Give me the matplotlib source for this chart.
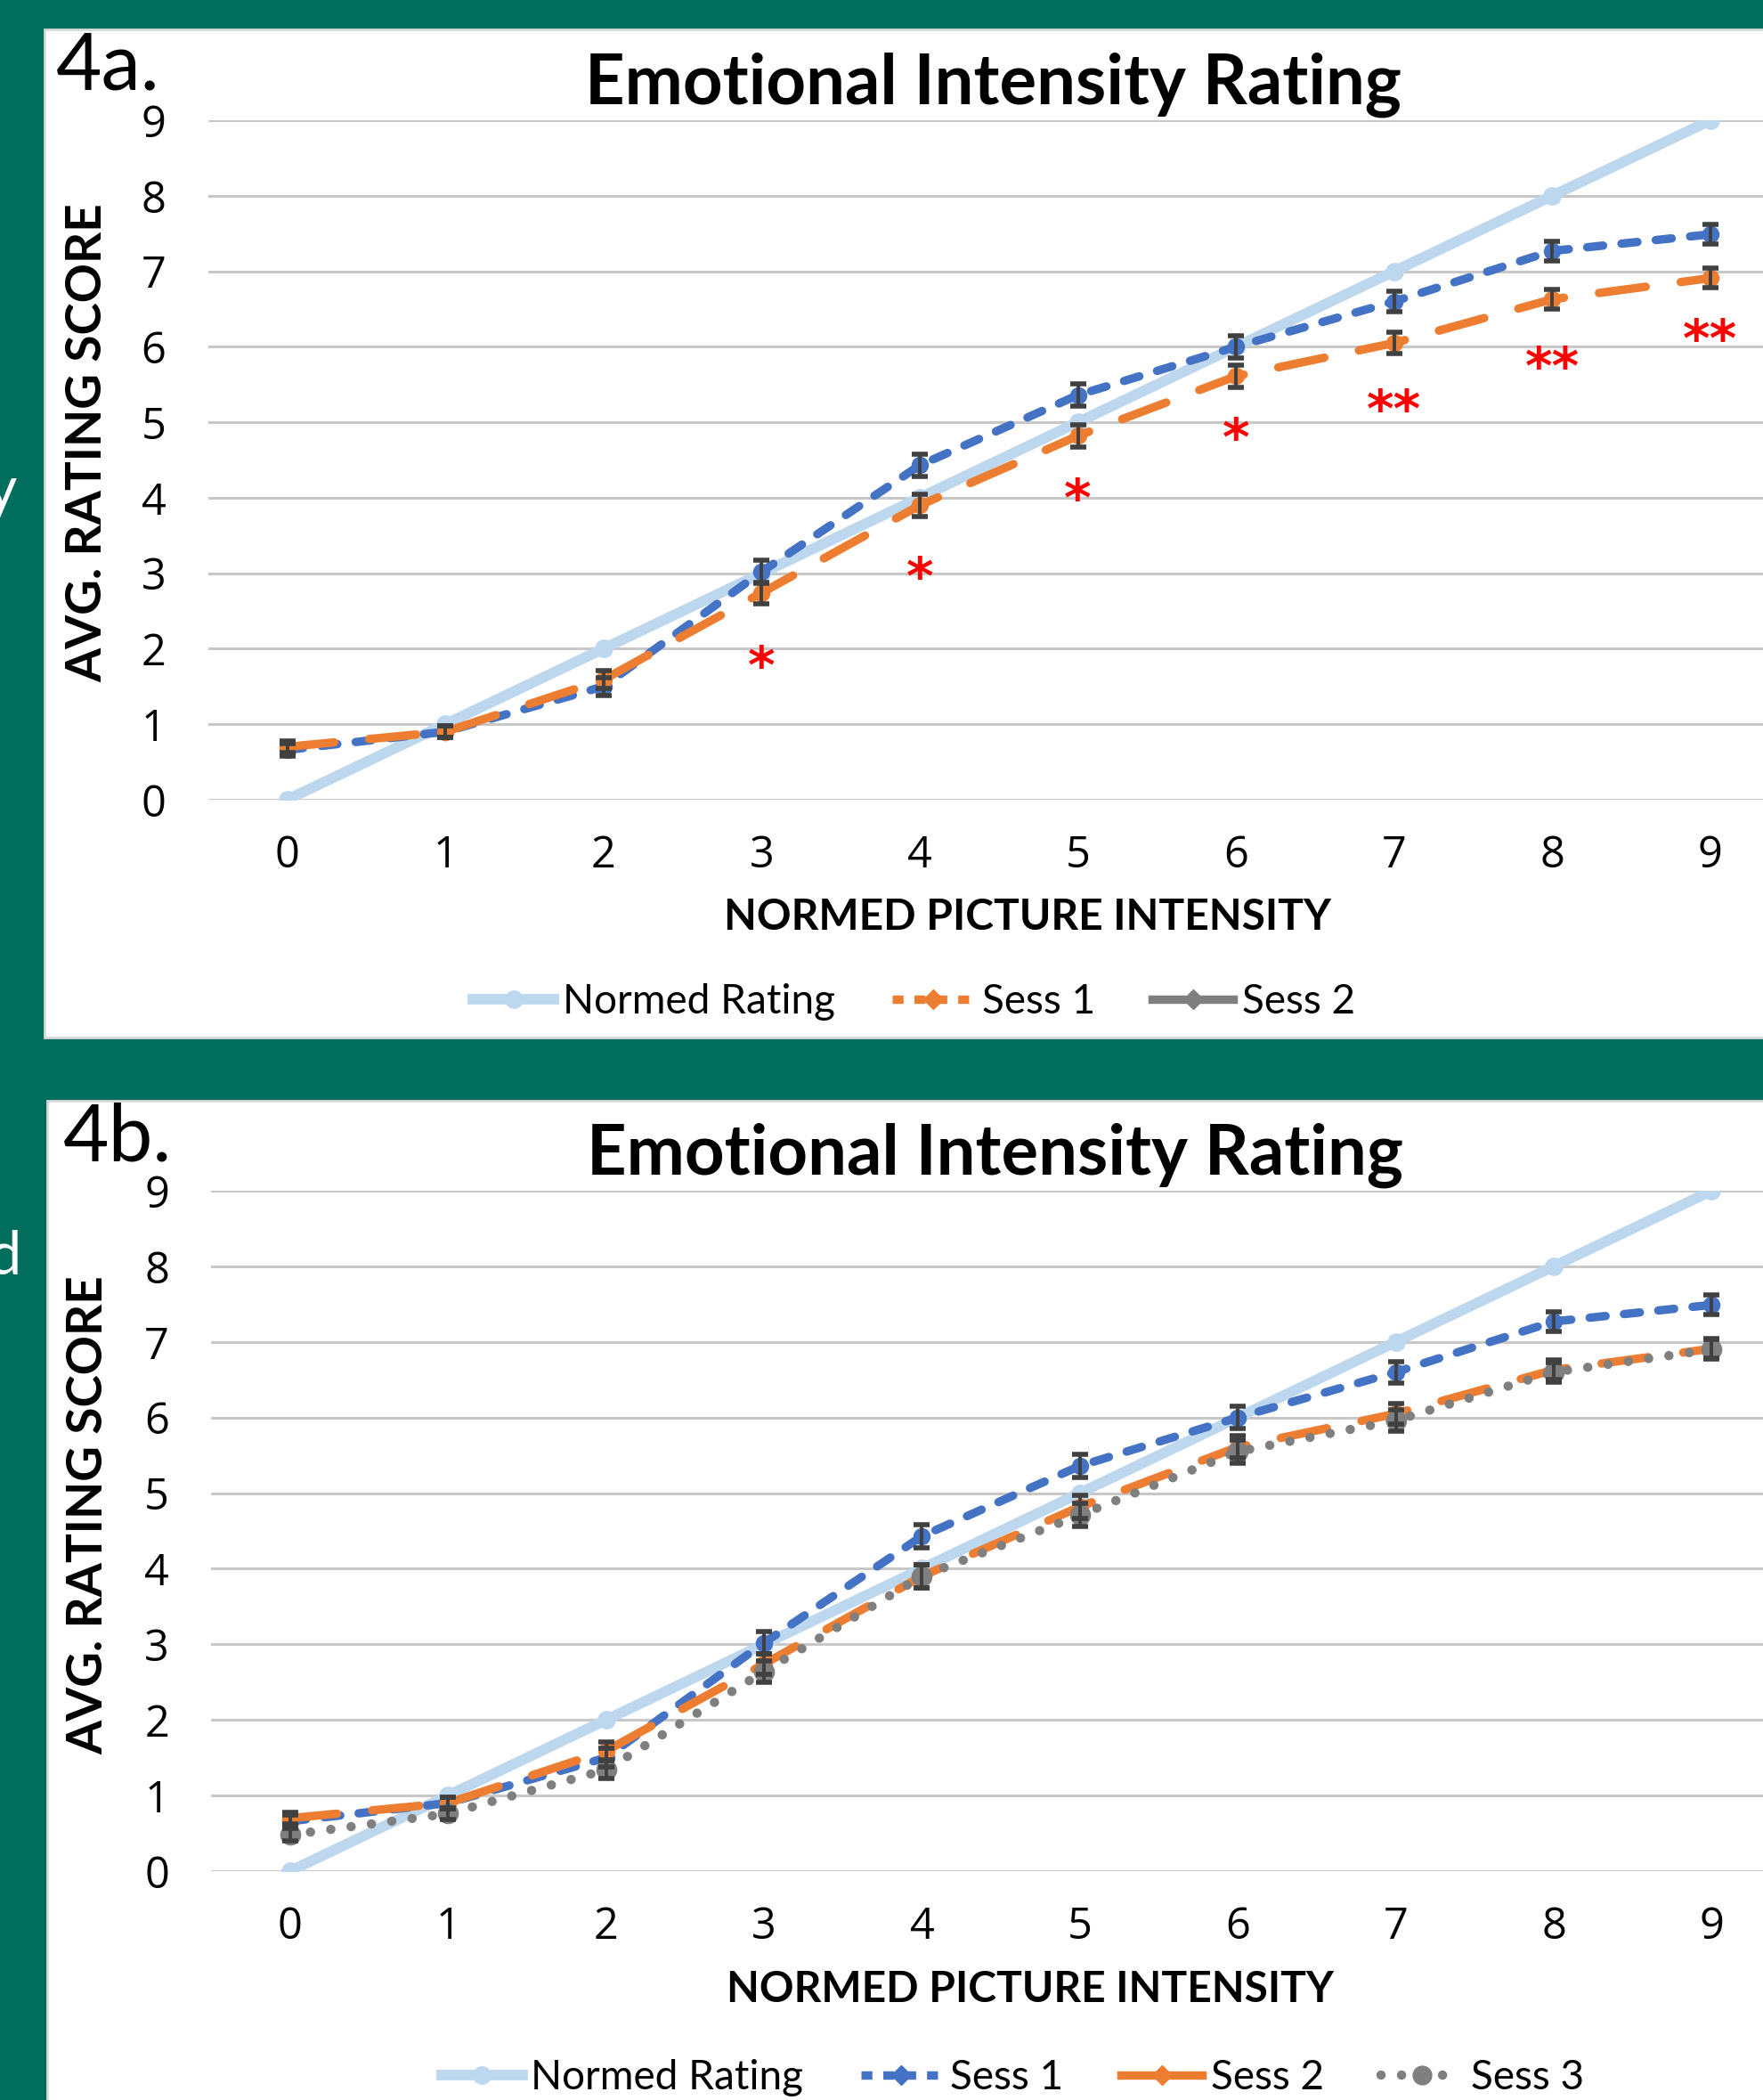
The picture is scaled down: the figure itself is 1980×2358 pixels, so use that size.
import matplotlib.pyplot as plt
from matplotlib.lines import Line2D
from matplotlib.patches import Rectangle

# данные
x = list(range(10))
normed = [0, 1, 2, 3, 4, 5, 6, 7, 8, 9]
sess1 = [0.66, 0.90, 1.50, 3.02, 4.43, 5.36, 6.00, 6.60, 7.27, 7.49]
sess2 = [0.70, 0.90, 1.59, 2.74, 3.90, 4.82, 5.61, 6.05, 6.63, 6.91]
sess3 = [0.48, 0.76, 1.34, 2.64, 3.90, 4.71, 5.55, 5.96, 6.60, 6.90]
err1 = [0.08, 0.08, 0.12, 0.15, 0.15, 0.15, 0.15, 0.14, 0.13, 0.13]
err2 = [0.08, 0.08, 0.12, 0.14, 0.15, 0.15, 0.15, 0.14, 0.13, 0.13]
err3 = [0.08, 0.08, 0.12, 0.14, 0.15, 0.15, 0.15, 0.14, 0.13, 0.13]
star_x = [3, 4, 5, 6, 7, 8, 9]
star_y = [1.95, 3.14, 4.17, 4.97, 5.35, 5.92, 6.29]
star_txt = ['*', '*', '*', '*', '**', '**', '**']

title = 'Emotional Intensity Rating'
xlab = 'NORMED PICTURE INTENSITY'
ylab = 'AVG. RATING SCORE'

GREEN = '#016D5C'
C_NORM = '#BDD7EE'
C_BLUE = '#4472C4'
C_ORANGE = '#ED7D31'
C_GRAY = '#7F7F7F'
C_ERR = '#404040'

plt.rcParams['font.family'] = ['Open Sans', 'DejaVu Sans']
TFONT = ['Lato', 'DejaVu Sans']

# стили линий (в единицах толщины линии)
BLUE_DASH = (0, (1.9, 2.2))
ORANGE_DASH = (0, (5.6, 4.2))
GRAY_DOT = (0, (0.01, 2.2))

fig = plt.figure(figsize=(19.81, 23.58), dpi=100, facecolor=GREEN)

# белые панели
fig.patches.append(Rectangle((0.0252, 0.5059), 1.0, 0.4801, transform=fig.transFigure,
                             facecolor='white', edgecolor='#D9D9D9', lw=2, zorder=-5))
fig.patches.append(Rectangle((0.0268, -0.01), 1.0, 0.4858, transform=fig.transFigure,
                             facecolor='white', edgecolor='#D9D9D9', lw=2, zorder=-5))

# обрезанные буквы слева (часть текста со слайда)
fig.text(-0.008, 0.766, 'y', color='white', fontsize=48, ha='left', va='center', family=TFONT)
fig.text(-0.007, 0.401, 'd', color='white', fontsize=48, ha='left', va='center', family=TFONT)


def setup(ax):
    ax.set_facecolor('none')
    ax.set_xlim(-0.5, 9.5)
    ax.set_ylim(0, 9)
    ax.set_xticks(x)
    ax.set_yticks(range(10))
    for s in ax.spines.values():
        s.set_visible(False)
    ax.grid(axis='y', color='#C8C8C8', lw=2.2)
    ax.set_axisbelow(True)
    ax.tick_params(axis='both', length=0, labelsize=35)
    ax.tick_params(axis='y', pad=34)
    ax.tick_params(axis='x', pad=28)


def err(ax, y, e):
    ax.errorbar(x, y, yerr=e, fmt='none', ecolor=C_ERR, elinewidth=2.8,
                capsize=6.5, capthick=4, zorder=6)


def norm_line(ax):
    ax.plot(x, normed, color=C_NORM, lw=8.5, marker='o', ms=14, zorder=2)


def blue_line(ax):
    ax.plot(x, sess1, color=C_BLUE, lw=6.8, ls=BLUE_DASH, dash_capstyle='round',
            marker='o', ms=13, zorder=3)
    err(ax, sess1, err1)


def orange_line(ax):
    ax.plot(x, sess2, color=C_ORANGE, lw=6.8, ls=ORANGE_DASH, dash_capstyle='round',
            marker='o', ms=13, zorder=3)
    err(ax, sess2, err2)


# ---------- 4a ----------
ax1 = fig.add_axes([0.118, 0.6192, 0.8965, 0.3235])
setup(ax1)
norm_line(ax1)
blue_line(ax1)
orange_line(ax1)
for sx, sy, st in zip(star_x, star_y, star_txt):
    ax1.annotate(st, (sx, sy), xytext=(0, -25), textcoords='offset points',
                 ha='center', va='baseline', color='red', fontsize=42,
                 fontweight='bold', family='DejaVu Sans')

fig.text(0.032, 0.968, '4a.', fontsize=64, ha='left', va='center', family=TFONT)
fig.text(0.563, 0.9597, title, fontsize=56, fontweight='bold', ha='center', va='center', family=TFONT)
fig.text(0.5825, 0.5632, xlab, fontsize=34.5, fontweight='bold', ha='center', va='center', family=TFONT)
fig.text(0.0495, 0.7892, ylab, fontsize=39.5, fontweight='bold', ha='center', va='center',
         rotation=90, family=TFONT)

h1 = [Line2D([], [], color=C_NORM, lw=8.5, marker='o', ms=14),
      Line2D([], [], color=C_ORANGE, lw=6.8, ls=(0, (1.3, 1.3)), marker='D', ms=11),
      Line2D([], [], color=C_GRAY, lw=6.8, marker='D', ms=11)]
fig.legend(h1, ['Normed Rating', 'Sess 1', 'Sess 2'], loc='center',
           bbox_to_anchor=(0.518, 0.5229), ncol=3, frameon=False,
           handlelength=2.0, handletextpad=0.2, columnspacing=1.4,
           prop={'family': TFONT, 'size': 33})

# ---------- 4b ----------
ax2 = fig.add_axes([0.1197, 0.109, 0.8955, 0.324])
setup(ax2)
norm_line(ax2)
blue_line(ax2)
orange_line(ax2)
ax2.plot(x, sess3, color=C_GRAY, lw=7.5, ls=GRAY_DOT, dash_capstyle='round',
         marker='o', ms=16, zorder=4)
err(ax2, sess3, err3)

fig.text(0.036, 0.458, '4b.', fontsize=64, ha='left', va='center', family=TFONT)
fig.text(0.564, 0.450, title, fontsize=56, fontweight='bold', ha='center', va='center', family=TFONT)
fig.text(0.584, 0.0526, xlab, fontsize=34.5, fontweight='bold', ha='center', va='center', family=TFONT)
fig.text(0.050, 0.2786, ylab, fontsize=39.5, fontweight='bold', ha='center', va='center',
         rotation=90, family=TFONT)

h2 = [Line2D([], [], color=C_NORM, lw=8.5, marker='o', ms=14),
      Line2D([], [], color=C_BLUE, lw=6.8, ls=(0, (1.3, 1.3)), marker='D', ms=11),
      Line2D([], [], color=C_ORANGE, lw=6.8, marker='D', ms=11),
      Line2D([], [], color=C_GRAY, lw=7.5, ls=GRAY_DOT, dash_capstyle='round',
             marker='o', ms=15)]
fig.legend(h2, ['Normed Rating', 'Sess 1', 'Sess 2', 'Sess 3'], loc='center',
           bbox_to_anchor=(0.574, 0.0106), ncol=4, frameon=False,
           handlelength=2.0, handletextpad=0.2, columnspacing=1.4,
           prop={'family': TFONT, 'size': 33})

fig.savefig('out.png', dpi=100, facecolor=GREEN)
